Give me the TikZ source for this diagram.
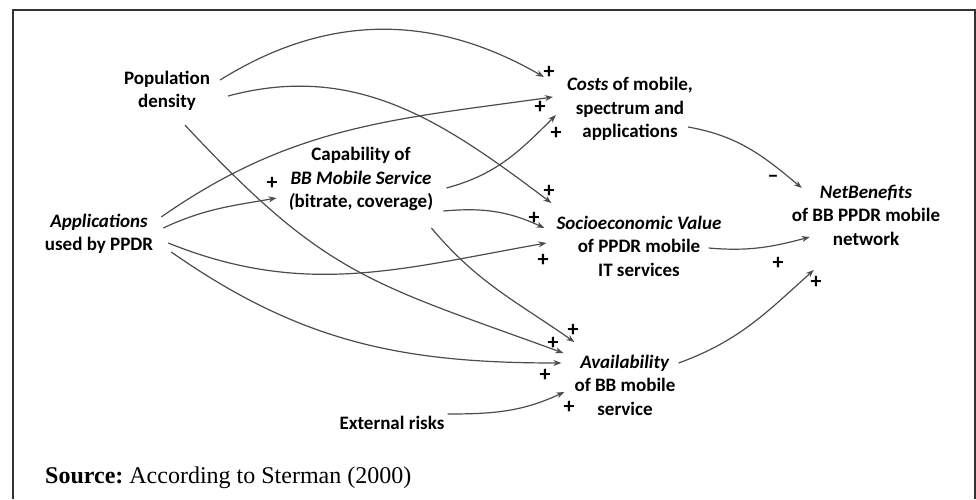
\documentclass[tikz,border=0pt]{standalone}
\usepackage{fontspec}
\newfontfamily\diafont{Carlito}
\newfontfamily\srcfont{Liberation Serif}
\usetikzlibrary{arrows.meta,positioning}

\begin{document}
\frenchspacing
\begin{tikzpicture}[x=1pt,y=1pt,
  var/.style={align=center,inner sep=0pt,font=\diafont\bfseries\fontsize{19}{23.5}\selectfont},
  sgn/.style={inner sep=0pt,font=\diafont\bfseries\fontsize{22}{24}\selectfont},
  lnk/.style={draw=black!70,line width=1.2pt,-{Stealth[length=8pt,width=6pt]}}]
  \useasboundingbox (0,0) rectangle (976,499);
  % frame
  \draw[line width=2pt,black!80] (13,0) -- (13,489) -- (975,489) -- (975,0);
  % variables
  \node[var] (pop) at (167,408) {Population\\density};
  \node[var] (app) at (99,265) {\textit{Applications}\\used by PPDR};
  \node[var] (cap) at (361,320) {Capability of\\\textit{BB Mobile Service}\\\textit{(}bitrate, coverage)};
  \node[var] (cost) at (630,390) {\textit{Costs} of mobile,\\spectrum and\\applications};
  \node[var] (soc) at (639,253) {\textit{Socioeconomic Value}\\of PPDR mobile\\IT services};
  \node[var] (net) at (866,284) {\textit{NetBenefits}\\of BB PPDR mobile\\network};
  \node[var] (avail) at (625,114) {\textit{Availability}\\of BB mobile\\service};
  \node[var] (ext) at (392,76) {External risks};
  \node[anchor=base west,inner sep=0pt,font=\srcfont\fontsize{24}{28}\selectfont] (src) at (45,16)
    {\textbf{Source:} According to Sterman (2000)};

  % links into costs
  \draw[lnk] ([shift={(10,11)}]pop.east) to[out=32,in=150] ([shift={(-23,32)}]cost.west);
  \draw[lnk] ([shift={(8,17)}]app.east) to[out=35,in=188] ([shift={(-14,12)}]cost.west);
  \draw[lnk] ([shift={(13,-9)}]cap.east) to[out=15,in=225] ([shift={(-11,-6)}]cost.west);
  % links into capability and socioeconomic value
  \draw[lnk] ([shift={(10,6)}]app.east) to[out=25,in=190] ([shift={(-12,-19)}]cap.west);
  \draw[lnk] ([shift={(18,-5)}]pop.east) to[out=15,in=143] ([shift={(-5,43)}]soc.west);
  \draw[lnk] ([shift={(10,-32)}]cap.east) to[out=5,in=155] ([shift={(-12,18)}]soc.west);
  \draw[lnk] ([shift={(15,-9)}]app.east) to[out=-22,in=190] ([shift={(-10,3)}]soc.west);
  % links into availability
  \draw[lnk] ([shift={(-2,-49)}]cap.east) to[out=-50,in=145] ([shift={(0,43)}]avail.west);
  \draw[lnk] ([shift={(18,-14)}]pop.south) to[out=-47,in=160,looseness=1.2] ([shift={(-11,32)}]avail.west);
  \draw[lnk] ([shift={(18,-18)}]app.east) to[out=-35,in=180] ([shift={(-13,22)}]avail.west);
  \draw[lnk] ([shift={(3,9)}]ext.east) to[out=0,in=205] ([shift={(-10,-7)}]avail.west);
  % links into net benefits
  \draw[lnk] ([shift={(-5,-18)}]cost.east) to[out=-10,in=140] ([shift={(10,27)}]net.west);
  \draw[lnk] ([shift={(-13,-2)}]soc.east) to[out=-5,in=195] ([shift={(18,-22)}]net.west);
  \draw[lnk] ([shift={(3,22)}]avail.east) to[out=20,in=222] ([shift={(22,-55)}]net.west);

  % polarities
  \foreach \x/\y [count=\i] in {549/427,540/392,556/366,549/308,534/281,543/239,
      573/169,553/156,545/124,569/92,272/316,778/236,816/217}
    \node[sgn] (p\i) at (\x,\y) {+};
  \node[sgn] (m1) at (773,320) {\textendash};
\end{tikzpicture}
\end{document}
